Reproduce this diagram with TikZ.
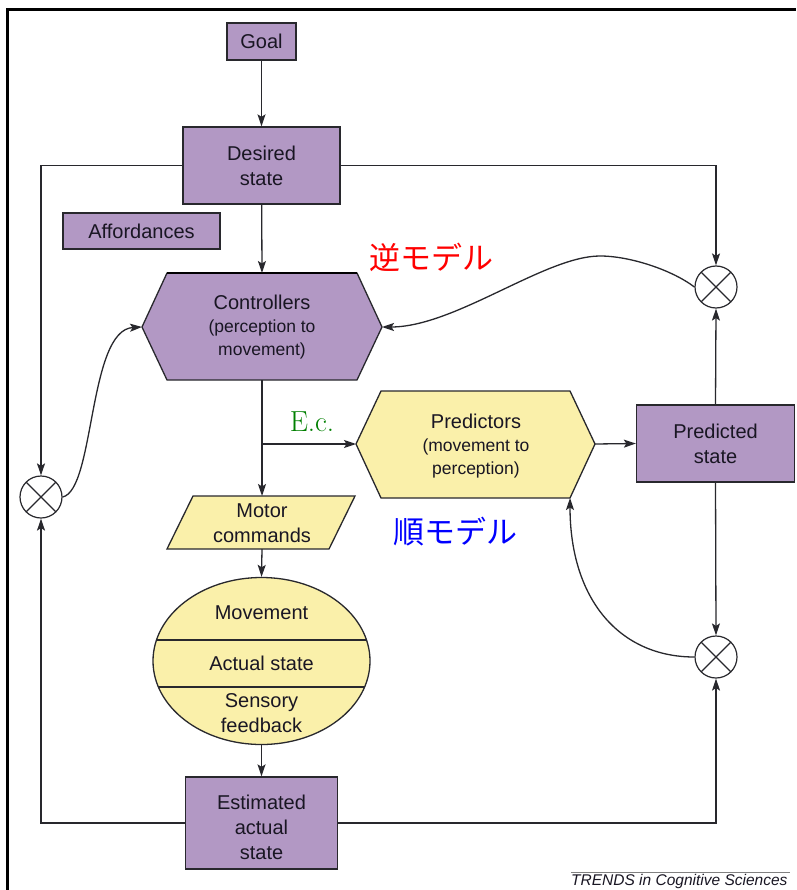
\documentclass[tikz,border=0pt]{standalone}
\usepackage{fontspec}
\newfontfamily\lsans{Liberation Sans}
\newfontfamily\cjk{Noto Sans CJK JP}
\usetikzlibrary{arrows.meta,shapes.geometric}
\definecolor{purp}{RGB}{178,152,196}
\definecolor{yel}{RGB}{250,240,170}
\definecolor{linec}{RGB}{40,40,45}
\definecolor{txt}{RGB}{25,22,35}
\begin{document}
\begin{tikzpicture}[x=1pt,y=-1pt,
  box/.style={draw=linec, line width=1.3pt, fill=purp, text=txt, align=center, inner sep=0pt,
    font=\lsans\fontsize{20}{25}\selectfont},
  lbl/.style={text=txt, align=center, inner sep=0pt, font=\lsans\fontsize{20}{25}\selectfont},
  sub/.style={text=txt, align=center, inner sep=0pt, font=\lsans\fontsize{17.5}{23}\selectfont},
  shp/.style={draw=linec, line width=1.3pt},
  conn/.style={draw=linec, line width=1.3pt},
  arr/.style={conn, -{Stealth[length=12pt,width=8pt,inset=2.5pt]}},
  sumc/.style={circle, draw=linec, line width=1.2pt, minimum size=42pt, inner sep=0pt, fill=white,
    path picture={\draw[linec, line width=1.2pt] (path picture bounding box.north west) -- (path picture bounding box.south east)
      (path picture bounding box.north east) -- (path picture bounding box.south west);}}
]
\useasboundingbox (0,0) rectangle (796,890);
\fill[white] (0,0) rectangle (796,890);
% frame
\draw[line width=3pt, black] (7,891) -- (7,10) -- (796,10);

% nodes
\node[box, minimum width=69pt, minimum height=37pt] (goal) at (261.5,41.5) {Goal};
\node[box, minimum width=157pt, minimum height=77pt] (des) at (261.5,165.5) {Desired\\state};
\node[box, minimum width=157pt, minimum height=36pt] (aff) at (141.5,231) {Affordances};
\node[box, minimum width=158pt, minimum height=77pt] (pst) at (715.5,443.5) {Predicted\\state};
\node[box, minimum width=152pt, minimum height=92pt] (est) at (261.5,823) {};
\node[lbl] (estt) at (261.5,827) {Estimated\\actual\\state};

% controllers hexagon
\coordinate (ctrlW) at (142,327);
\coordinate (ctrlE) at (382,327);
\coordinate (ctrlN) at (262,273);
\coordinate (ctrlS) at (262,380);
\filldraw[shp, fill=purp] (ctrlW) -- (167,273) -- (357,273) -- (ctrlE) -- (357,380) -- (167,380) -- cycle;
\draw[black, line width=2pt] (167,273) -- (357,273);
\node[sub] (ctrlt) at (262,327) {{\fontsize{20}{24}\selectfont Controllers}\\(perception to\\movement)};

% predictors hexagon
\coordinate (predW) at (356,444);
\coordinate (predE) at (595,444);
\coordinate (predSE) at (570,498);
\filldraw[shp, fill=yel] (predW) -- (381,391) -- (570,391) -- (predE) -- (predSE) -- (381,498) -- cycle;
\node[sub] (predt) at (476,446) {{\fontsize{20}{24}\selectfont Predictors}\\(movement to\\perception)};

% motor commands parallelogram
\coordinate (motN) at (262,496);
\coordinate (motS) at (262,549);
\filldraw[shp, fill=yel] (193,496) -- (355,496) -- (329,549) -- (167,549) -- cycle;
\node[lbl] (mott) at (262,523) {Motor\\commands};

% body ellipse
\node[ellipse, draw=linec, line width=1.3pt, fill=yel, minimum width=217pt, minimum height=167pt, inner sep=0pt] (body) at (261.5,661) {};
\begin{scope}
\clip (261.5,661) ellipse [x radius=108.5pt, y radius=83.5pt];
\draw[linec, line width=1.2pt] (150,640) -- (375,640) (150,687) -- (375,687);
\end{scope}
\node[lbl] (mv) at (261.5,613) {Movement};
\node[lbl] (as) at (261.5,663) {Actual state};
\node[lbl] (sf) at (261.5,713) {Sensory\\feedback};

% summing junctions
\node[sumc] (c1) at (716,287) {};
\node[sumc] (c2) at (716,657) {};
\node[sumc] (c3) at (41,497) {};

% straight connectors
\draw[arr] (goal) -- (des);
\draw[arr] (des) -- (ctrlN);
\draw[arr] (ctrlS) -- (motN);
\coordinate (br) at (262,444);
\draw[arr] (br) -- (predW);
\draw[arr] (motS) -- (body.north);
\draw[arr] (body.south) -- (est.north);
\draw[arr] (predE) -- (pst.west);
\draw[arr] (pst.north) -- (c1.south);
\draw[arr] (pst.south) -- (c2.north);
\draw[arr] (des.east) -| (c1.north);
\draw[arr] (des.west) -| (c3.north);
\draw[arr] (est.west) -| (c3.south);
\draw[arr] (est.east) -| (c2.south);

% curved connectors
\coordinate (pk) at (600,256);
\draw[arr] (c1.west) .. controls (672,270) and (630,256) .. (pk) .. controls (545,256) and (455,327) .. (ctrlE);
\draw[arr] (c3.east) .. controls (95,490) and (88,330) .. (ctrlW);
\draw[arr] (c2.west) .. controls (620,657) and (570,600) .. (predSE);

% annotations
\node[text=red, font=\cjk\fontsize{31}{32}\selectfont, inner sep=0pt] (inv) at (431,257) {逆モデル};
\node[text=blue, font=\cjk\fontsize{31}{32}\selectfont, inner sep=0pt] (fwd) at (455,532) {順モデル};
\node[text={rgb,255:red,0;green,128;blue,0}, font=\rmfamily\fontsize{29}{30}\selectfont, inner sep=0pt] (ec) at (312,422) {E.c.};

% credit
\coordinate (crL) at (571,872);
\coordinate (crR) at (790,872);
\draw[gray, line width=0.8pt] (crL) -- (crR);
\node[anchor=base west, inner sep=0pt, font=\lsans\itshape\fontsize{15.5}{18}\selectfont, text=txt] (cred) at (571,885.5) {TRENDS in Cognitive Sciences};
\end{tikzpicture}
\end{document}
